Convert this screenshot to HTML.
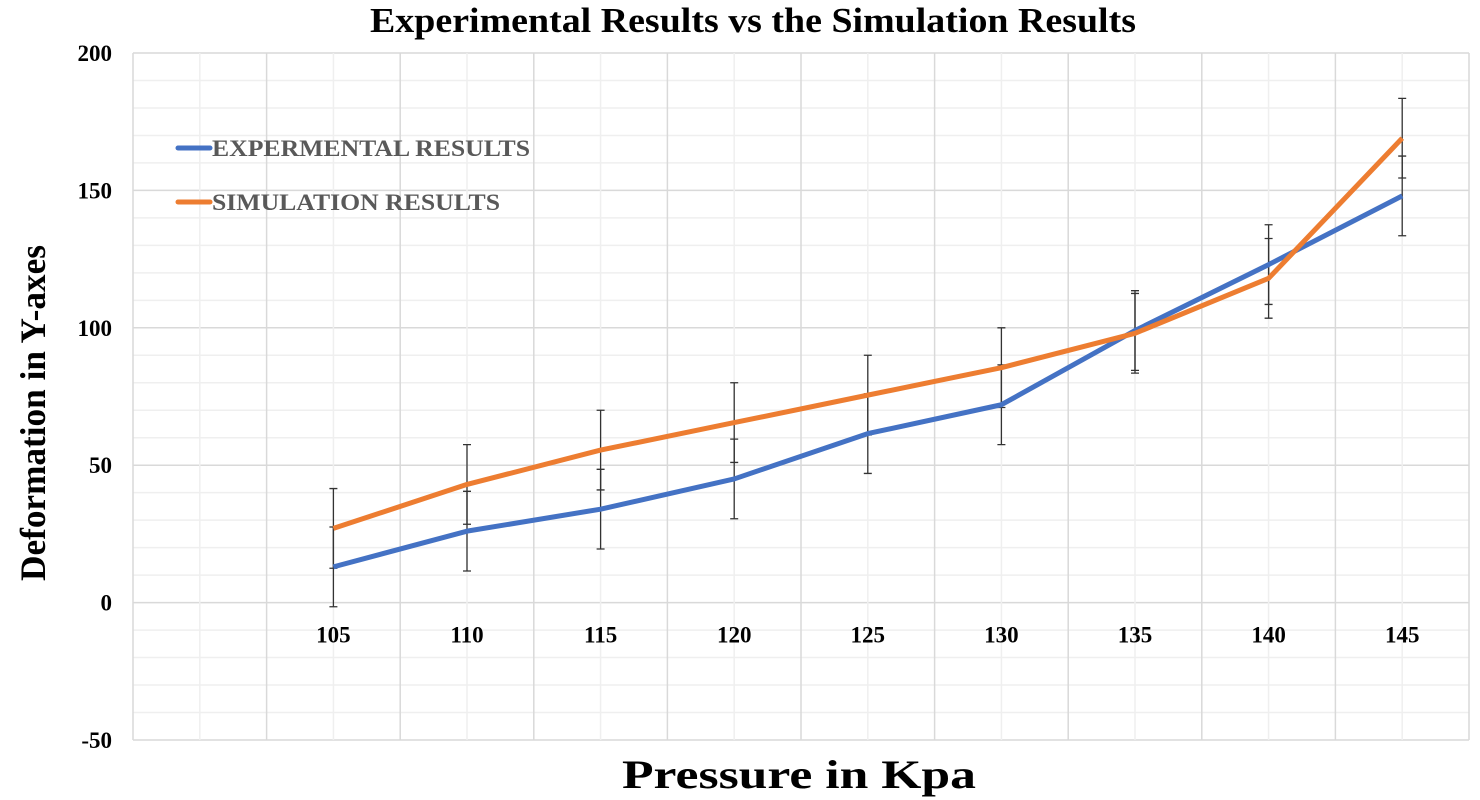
<!DOCTYPE html>
<html><head><meta charset="utf-8"><style>
body{margin:0;background:#fff;}
svg{display:block;font-family:"Liberation Serif",serif;}
</style></head><body>
<svg id="chart" width="1480" height="800" xmlns="http://www.w3.org/2000/svg">
<text x="753" y="32" text-anchor="middle" font-size="35" font-weight="bold" textLength="766" lengthAdjust="spacingAndGlyphs">Experimental Results vs the Simulation Results</text>
<text transform="translate(45,413) rotate(-90)" text-anchor="middle" font-size="36" font-weight="bold" textLength="336" lengthAdjust="spacingAndGlyphs">Deformation in Y-axes</text>
<text x="799" y="788" text-anchor="middle" font-size="40" font-weight="bold" textLength="354" lengthAdjust="spacingAndGlyphs">Pressure in Kpa</text>
<g id="grid"></g><g id="ticks"></g><g id="errs"></g><g id="lines"></g>
<g>
<line x1="178" y1="148" x2="210" y2="148" stroke="#4472C4" stroke-width="5" stroke-linecap="round"/>
<text x="212" y="156" font-size="23" font-weight="bold" fill="#595959" textLength="318" lengthAdjust="spacingAndGlyphs">EXPERMENTAL RESULTS</text>
<line x1="178" y1="202" x2="210" y2="202" stroke="#ED7D31" stroke-width="5" stroke-linecap="round"/>
<text x="212" y="210" font-size="23" font-weight="bold" fill="#595959" textLength="288" lengthAdjust="spacingAndGlyphs">SIMULATION RESULTS</text>
</g>
</svg>
<script>
const categories=["",105,110,115,120,125,130,135,140,145];
const expValues=[null,13,26,34,45,61.5,72,99,123,148];
const simValues=[null,27,43,55.5,65.5,75.5,85.5,98,118,169];
const errAmount=[14.5];
const yTicks=[-50,0,50,100,150,200];
const NS="http://www.w3.org/2000/svg";
const L=133,R=1469,T=53,B=740,yMin=-50,yMax=200;
const bw=(R-L)/10;
function xs(i){return L+(i+0.5)*bw;}
function ys(v){return B-(v-yMin)/(yMax-yMin)*(B-T);}
function mk(tag,a,p){const e=document.createElementNS(NS,tag);for(const k in a)e.setAttribute(k,a[k]);p.appendChild(e);return e;}
const grid=document.getElementById('grid'),ticks=document.getElementById('ticks'),errs=document.getElementById('errs'),lines=document.getElementById('lines');
for(let v=yMin;v<=yMax;v+=10){const l=mk('line',{x1:L,x2:R,y1:ys(v),y2:ys(v),stroke:v%50===0?'#d9d9d9':'#efefef','stroke-width':1.5},grid);

}
for(let i=0;i<=20;i++){const x=L+i*bw/2;const l=mk('line',{x1:x,x2:x,y1:T,y2:B,stroke:i%2===0?'#d9d9d9':'#efefef','stroke-width':1.5},grid);

}
yTicks.forEach(v=>{const t=mk('text',{x:112,y:ys(v)+8,'text-anchor':'end','font-size':23,'font-weight':'bold'},ticks);t.textContent=v;

});
categories.forEach((c,i)=>{if(c==="")return;const t=mk('text',{x:xs(i),y:ys(0)+40,'text-anchor':'middle','font-size':23,'font-weight':'bold'},ticks);t.textContent=c;

});
function series(vals,color,name){
 let d='';vals.forEach((v,i)=>{if(v==null)return;d+=(d?'L':'M')+xs(i)+','+ys(v);});
 const p=mk('path',{d:d,fill:'none',stroke:color,'stroke-width':5,'stroke-linejoin':'round'},lines);
 
 
 vals.forEach((v,i)=>{if(v==null)return;const x=xs(i),a=ys(v+errAmount[0]),b=ys(v-errAmount[0]);
  const g=mk('path',{d:`M${x},${a}L${x},${b}M${x-4},${a}L${x+4},${a}M${x-4},${b}L${x+4},${b}`,stroke:'#333','stroke-width':1.3,fill:'none'},errs);
  
  });
}
series(expValues,'#4472C4','experimental');
series(simValues,'#ED7D31','simulation');
</script>
</body></html>
